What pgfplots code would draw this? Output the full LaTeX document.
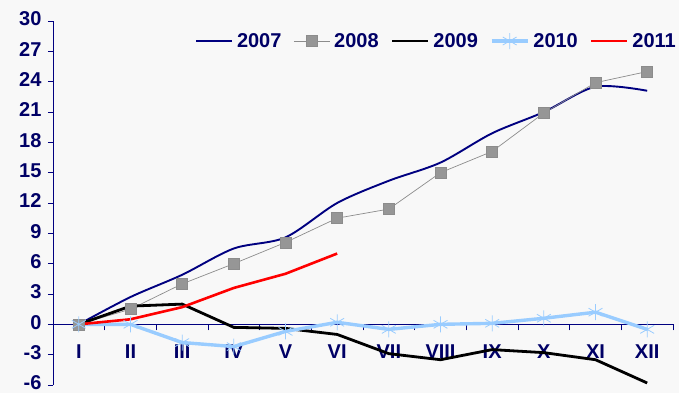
\documentclass[border=0pt]{standalone}
\usepackage{fontspec}
\setmainfont{Liberation Sans}
\usepackage{pgfplots}
\pgfplotsset{compat=1.18}
\definecolor{bg}{HTML}{F8F8F8}
\definecolor{txt}{RGB}{0,0,102}
\definecolor{navy}{RGB}{0,0,128}
\definecolor{grayline}{HTML}{8C8C8C}
\definecolor{grayfill}{HTML}{969696}
\definecolor{lblue}{HTML}{99CCFF}
\pgfplotstableread{
x y2007 y2008 y2009 y2010
0 0    0    0    0
1 2.7  1.5  1.8  0.0
2 4.9  4.0  2.0  -1.8
3 7.5  6.0  -0.3 -2.2
4 8.6  8.1  -0.4 -0.7
5 12.0 10.5 -1.0 0.2
6 14.2 11.4 -2.9 -0.5
7 16.0 15.0 -3.5 0.0
8 18.9 17.1 -2.5 0.1
9 21.0 20.9 -2.8 0.6
10 23.5 23.9 -3.5 1.2
11 23.1 25.0 -5.8 -0.5
}\datatable
\pgfplotstableread{
x y2011
0 0
1 0.5
2 1.7
3 3.6
4 5.0
5 7.0
}\datatableb
\begin{document}
\begin{tikzpicture}
\fill[bg] (-53pt,-8pt) rectangle (626pt,385pt);
\useasboundingbox (-53pt,-8pt) rectangle (626pt,385pt);
\begin{axis}[
  scale only axis, width=620pt, height=364pt,
  xmin=-0.5, xmax=11.5, ymin=-6, ymax=30,
  axis x line=middle, axis y line=left,
  axis line style={-, draw=navy, line width=0.9pt},
  hide obscured x ticks=false, hide obscured y ticks=false,
  ytick={-6,-3,...,30},
  yticklabels={-6,-3,0,3,6,9,12,15,18,21,24,27,30},
  xtick={0,...,11},
  xticklabels={I,II,III,IV,V,VI,VII,VIII,IX,X,XI,XII},
  minor xtick={-0.5,0.5,...,11.5},
  major x tick style={draw=none},
  minor x tick style={draw=navy, line width=0.8pt},
  minor tick length=6pt,
  ytick style={draw=navy, line width=0.8pt},
  major tick length=5pt,
  xtick align=outside, ytick align=outside,
  tick label style={font=\fontsize{20}{24}\selectfont\bfseries, text=txt},
  xticklabel style={yshift=-12pt},
  yticklabel style={xshift=-3pt, yshift=2pt},
  legend columns=5,
  legend style={draw=none, fill=none, at={(rel axis cs:1.013,0.945)}, anchor=east,
    font=\fontsize{20}{24}\selectfont\bfseries, text=txt,
    /tikz/every even column/.append style={column sep=10pt},
    /tikz/every odd column/.append style={column sep=2pt}},
  legend image code/.code={\draw[mark repeat=2,mark phase=2,#1] plot coordinates {(0pt,0pt) (18pt,0pt) (36pt,0pt)};},
  clip=false,
]
\addplot[navy, line width=1.9pt, smooth, tension=0.5] table[x=x,y=y2007] {\datatable};
\addlegendentry{2007}
\addplot[grayline, line width=0.7pt, mark=square*, mark size=5.5pt,
  mark options={fill=grayfill, draw=grayline, line width=0.6pt}] table[x=x,y=y2008] {\datatable};
\addlegendentry{2008}
\addplot[black, line width=2.8pt] table[x=x,y=y2009] {\datatable};
\addlegendentry{2009}
\addplot[lblue, line width=3.4pt, mark=asterisk, mark size=8pt,
  mark options={line width=0.8pt}] table[x=x,y=y2010] {\datatable};
\addlegendentry{2010}
\addplot[red, line width=2.6pt] table[x=x,y=y2011] {\datatableb};
\addlegendentry{2011}
\end{axis}
\end{tikzpicture}
\end{document}
